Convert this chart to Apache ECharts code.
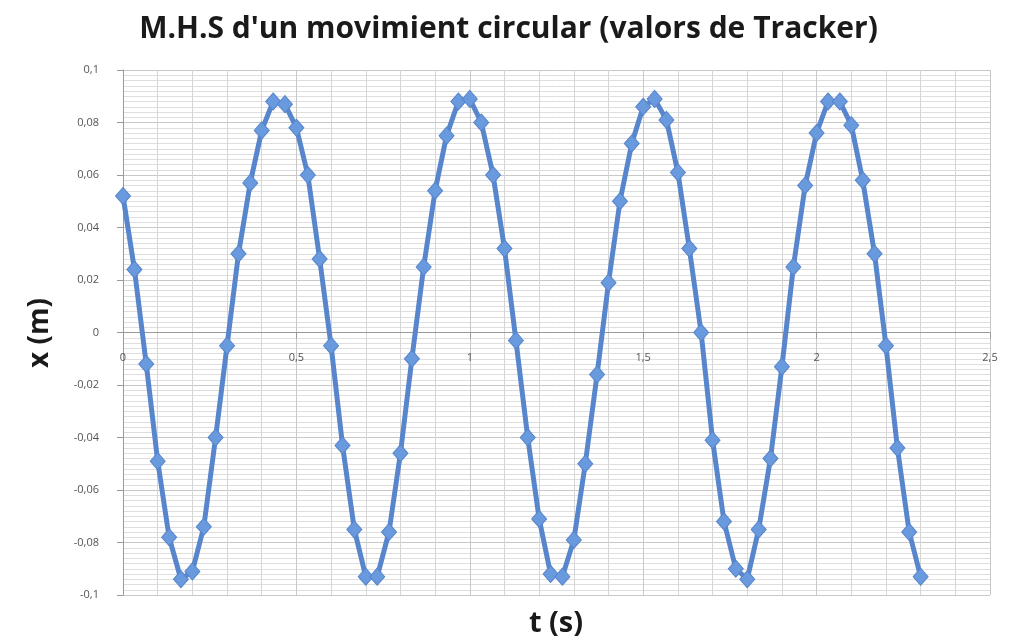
<!DOCTYPE html>
<html>
<head>
<meta charset="utf-8">
<script src="https://cdn.jsdelivr.net/npm/echarts@6/dist/echarts.min.js"></script>
<style>
html,body{margin:0;padding:0;background:#fff;}
#chart{width:1017px;height:641px;}
</style>
</head>
<body>
<div id="chart"></div>
<script>
var titleText = "M.H.S d'un movimient circular (valors de Tracker)";
var xAxisTitle = "t (s)";
var yAxisTitle = "x (m)";

var tValues = [0, 0.033, 0.067, 0.1, 0.133, 0.167, 0.2, 0.233, 0.267, 0.3,
  0.333, 0.367, 0.4, 0.433, 0.467, 0.5, 0.533, 0.567, 0.6, 0.633,
  0.667, 0.7, 0.733, 0.767, 0.8, 0.833, 0.867, 0.9, 0.933, 0.967,
  1.0, 1.033, 1.067, 1.1, 1.133, 1.167, 1.2, 1.233, 1.267, 1.3,
  1.333, 1.367, 1.4, 1.433, 1.467, 1.5, 1.533, 1.567, 1.6, 1.633,
  1.667, 1.7, 1.733, 1.767, 1.8, 1.833, 1.867, 1.9, 1.933, 1.967,
  2.0, 2.033, 2.067, 2.1, 2.133, 2.167, 2.2, 2.233, 2.267, 2.3];

var xValues = [0.052, 0.024, -0.012, -0.049, -0.078, -0.094, -0.091, -0.074, -0.040, -0.005,
  0.030, 0.057, 0.077, 0.088, 0.087, 0.078, 0.060, 0.028, -0.005, -0.043,
  -0.075, -0.093, -0.093, -0.076, -0.046, -0.010, 0.025, 0.054, 0.075, 0.088,
  0.089, 0.080, 0.060, 0.032, -0.003, -0.040, -0.071, -0.092, -0.093, -0.079,
  -0.050, -0.016, 0.019, 0.050, 0.072, 0.086, 0.089, 0.081, 0.061, 0.032,
  0.000, -0.041, -0.072, -0.090, -0.094, -0.075, -0.048, -0.013, 0.025, 0.056,
  0.076, 0.088, 0.088, 0.079, 0.058, 0.030, -0.005, -0.044, -0.076, -0.093];

var seriesData = tValues.map(function (t, i) { return [t, xValues[i]]; });

function fmt(v) {
  return String(+v.toFixed(4)).replace('.', ',');
}

var chart = echarts.init(document.getElementById('chart'));
chart.setOption({
  backgroundColor: '#ffffff',
  animation: false,
  title: {
    text: titleText,
    left: 'center',
    top: 9,
    textStyle: {
      fontFamily: 'Open Sans',
      fontWeight: 'bold',
      fontSize: 30,
      color: '#1a1a1a'
    }
  },
  grid: { left: 123, right: 27, top: 70, bottom: 46, containLabel: false },
  xAxis: {
    type: 'value',
    min: 0,
    max: 2.5,
    interval: 0.5,
    offset: -262.5,
    axisLine: { show: true, onZero: false, lineStyle: { color: '#9a9a9a', width: 1 } },
    axisTick: { show: true, inside: false, length: 6, lineStyle: { color: '#9a9a9a' } },
    axisLabel: {
      margin: 20,
      fontFamily: 'Open Sans',
      fontSize: 11,
      color: '#555',
      formatter: fmt
    },
    splitLine: { show: true, lineStyle: { color: '#c8c8c8', width: 1 } },
    minorTick: { show: false, splitNumber: 5 },
    minorSplitLine: { show: true, lineStyle: { color: '#d6d6d6', width: 1 } }
  },
  yAxis: {
    type: 'value',
    min: -0.1,
    max: 0.1,
    interval: 0.02,
    axisLine: { show: true, lineStyle: { color: '#9a9a9a', width: 1 } },
    axisTick: { show: true, inside: false, length: 6, lineStyle: { color: '#9a9a9a' } },
    axisLabel: {
      margin: 24,
      fontFamily: 'Open Sans',
      fontSize: 11,
      color: '#555',
      formatter: fmt
    },
    splitLine: { show: true, lineStyle: { color: '#c8c8c8', width: 1 } },
    minorTick: { show: false, splitNumber: 10 },
    minorSplitLine: { show: true, lineStyle: { color: '#dedede', width: 1 } }
  },
  graphic: [
    {
      type: 'text',
      x: 40,
      y: 333,
      rotation: Math.PI / 2,
      style: {
        text: yAxisTitle,
        fontFamily: 'Open Sans',
        fontWeight: 'bold',
        fontSize: 28,
        fill: '#1a1a1a',
        align: 'center',
        verticalAlign: 'middle'
      }
    },
    {
      type: 'text',
      x: 556,
      y: 624,
      style: {
        text: xAxisTitle,
        fontFamily: 'Open Sans',
        fontWeight: 'bold',
        fontSize: 29,
        fill: '#1a1a1a',
        align: 'center',
        verticalAlign: 'middle'
      }
    }
  ],
  series: [{
    type: 'line',
    data: seriesData,
    symbol: 'diamond',
    symbolSize: [15, 17],
    showAllSymbol: true,
    lineStyle: { color: '#5886cc', width: 5 },
    itemStyle: { color: '#6a9ade', borderColor: '#5886cc', borderWidth: 1 },
    z: 5
  }]
});
</script>
</body>
</html>
